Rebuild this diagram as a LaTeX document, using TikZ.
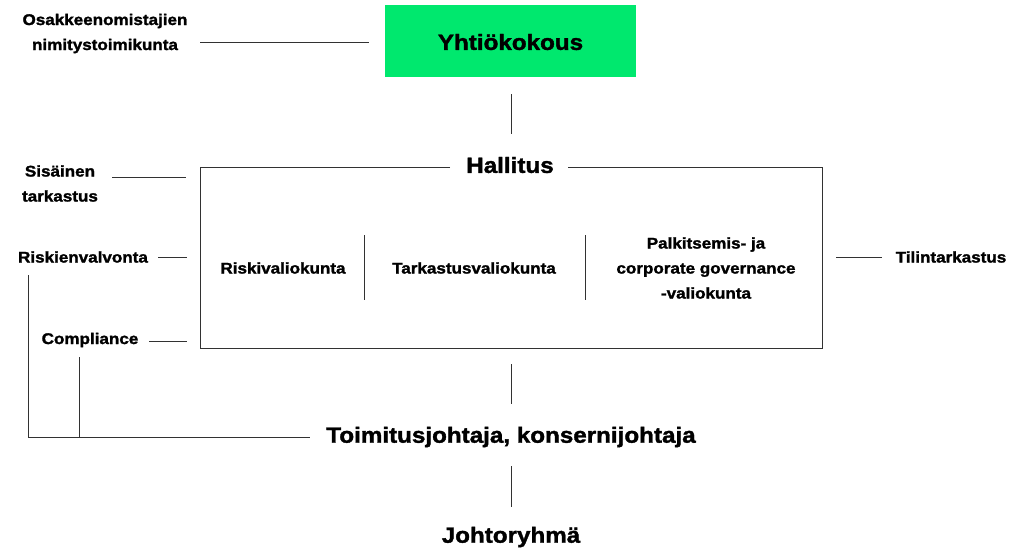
\documentclass[tikz,border=0pt]{standalone}
\usepackage{fontspec}
\setmainfont{Liberation Sans}[BoldFeatures={FakeStretch=1.1,FakeBold=1.6}]
\definecolor{brandgreen}{RGB}{0,232,110}
\definecolor{linegray}{RGB}{50,50,50}
\begin{document}
\begin{tikzpicture}[x=1pt,y=-1pt,
  small/.style={font=\bfseries\fontsize{15.5}{25}\selectfont, align=center, inner sep=0pt, text=black},
  big/.style={font=\bfseries\fontsize{22}{24}\selectfont, align=center, inner sep=0pt, text=black},
  conn/.style={draw=linegray, line width=0.9pt}]
\useasboundingbox (0,0) rectangle (1035,550);
% top
\node[fill=brandgreen, minimum width=251pt, minimum height=72pt, inner sep=0pt] (yk) at (510.5,41) {};
\node[big] (ykt) at (510.5,42) {Yhtiökokous};
\node[small] (osak) at (105,33.5) {Osakkeenomistajien\\nimitystoimikunta};
\coordinate (o1) at (200,42); \coordinate (o2) at (369,42);
\draw[conn] (o1) -- (o2);
\coordinate (v1a) at (511,94); \coordinate (v1b) at (511,134);
\draw[conn] (v1a) -- (v1b);
% board
\node[big] (hall) at (510,165) {Hallitus};
\coordinate (bl) at (200,167); \coordinate (br) at (822,167);
\coordinate (bbl) at (200,348); \coordinate (bbr) at (822,348);
\coordinate (hl) at (450,167); \coordinate (hr) at (568,167);
\draw[conn] (hl) -- (bl) -- (bbl) -- (bbr) -- (br) -- (hr);
\node[small] (rv) at (283,268) {Riskivaliokunta};
\node[small] (tv) at (474,268) {Tarkastusvaliokunta};
\node[small] (pv) at (706,268) {Palkitsemis- ja\\corporate governance\\-valiokunta};
\coordinate (d1a) at (364,235); \coordinate (d1b) at (364,300);
\coordinate (d2a) at (585,235); \coordinate (d2b) at (585,300);
\draw[conn] (d1a) -- (d1b);
\draw[conn] (d2a) -- (d2b);
% left side
\node[small] (sis) at (60,183.5) {Sisäinen\\tarkastus};
\coordinate (s1) at (112,177); \coordinate (s2) at (186,177);
\draw[conn] (s1) -- (s2);
\node[small] (risk) at (83,257) {Riskienvalvonta};
\coordinate (r1) at (158,257); \coordinate (r2) at (187,257);
\draw[conn] (r1) -- (r2);
\node[small] (comp) at (90,340) {Compliance};
\coordinate (c1) at (149,341); \coordinate (c2) at (187,341);
\draw[conn] (c1) -- (c2);
% right side
\node[small] (tilin) at (951,257) {Tilintarkastus};
\coordinate (t1) at (836,257); \coordinate (t2) at (882,257);
\draw[conn] (t1) -- (t2);
% CEO
\coordinate (v2a) at (511,364); \coordinate (v2b) at (511,404);
\draw[conn] (v2a) -- (v2b);
\node[big] (ceo) at (511,437) {Toimitusjohtaja, konsernijohtaja};
\coordinate (l1) at (28,275); \coordinate (l2) at (28,437); \coordinate (l3) at (310,437);
\draw[conn] (l1) -- (l2) -- (l3);
\coordinate (m1) at (79,357); \coordinate (m2) at (79,437);
\draw[conn] (m1) -- (m2);
\coordinate (v3a) at (511,466); \coordinate (v3b) at (511,507);
\draw[conn] (v3a) -- (v3b);
\node[big] (jr) at (511,537) {Johtoryhmä};
\end{tikzpicture}
\end{document}
